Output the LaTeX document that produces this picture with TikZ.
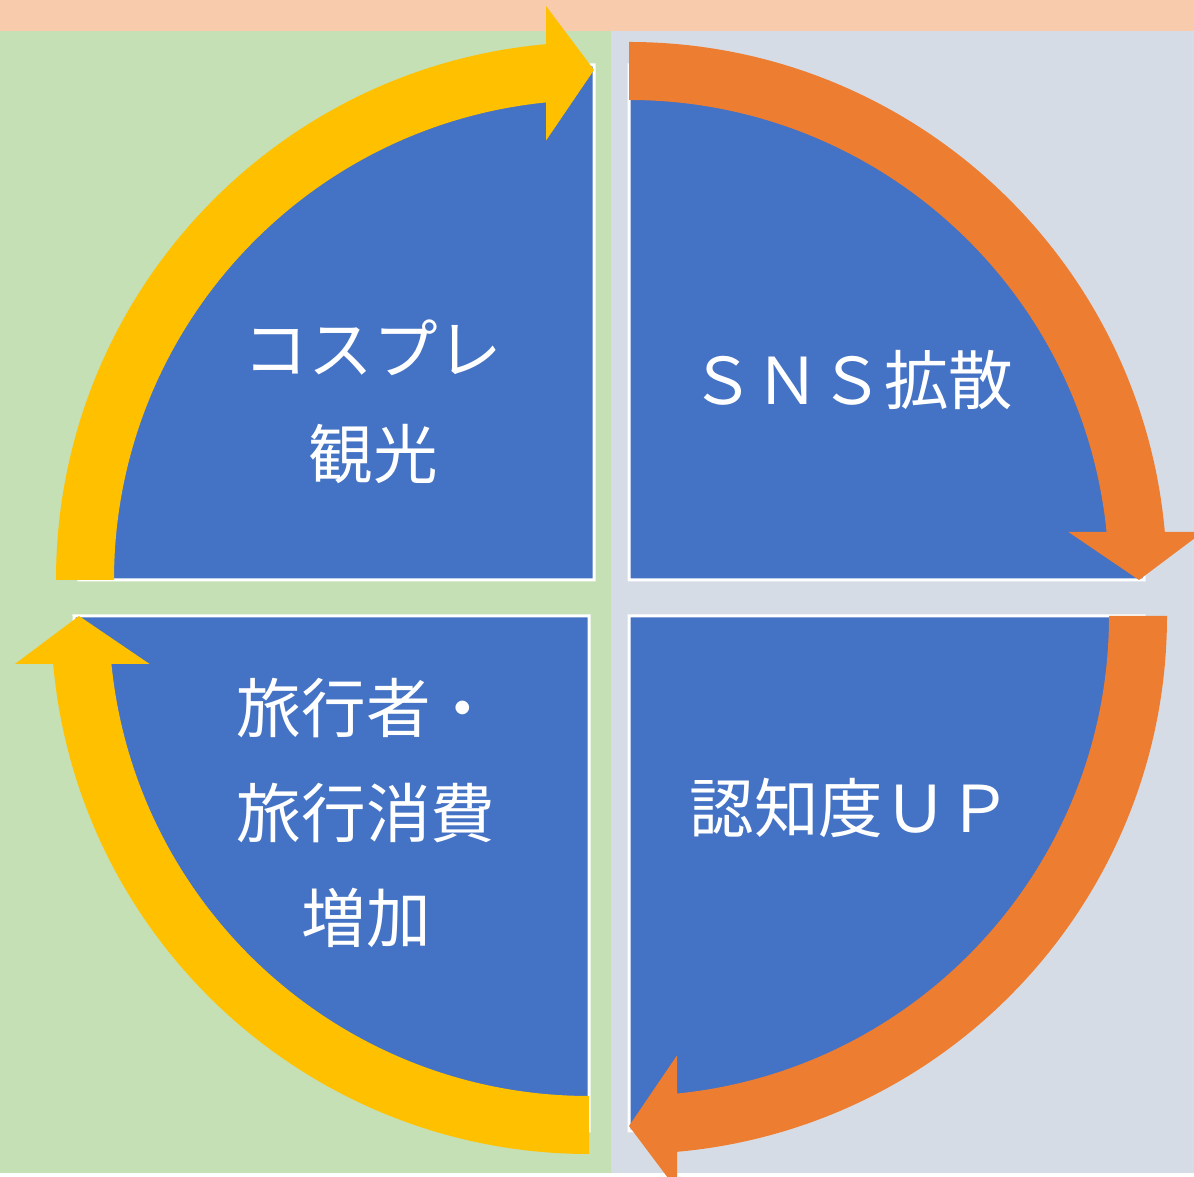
\documentclass[tikz,border=0pt]{standalone}
\usepackage{fontspec}
\setmainfont{Noto Sans CJK JP}
\usepackage{xcolor}
\usepackage{tikz}

\definecolor{quadblue}{HTML}{4472C4}
\definecolor{cycyellow}{HTML}{FFC000}
\definecolor{cycorange}{HTML}{ED7D31}
\definecolor{bggreen}{HTML}{C5E0B4}
\definecolor{bggray}{HTML}{D6DCE5}
\definecolor{bgpeach}{HTML}{F8CBAD}

% curved block arrow round a corner: centre, rotation, colour
\newcommand{\cycarrow}[3]{%
	\fill[#3,shift={#1},rotate=#2] (180:480) -- (180:538)
		arc[start angle=180,end angle=95.12,radius=538]
		-- (-48,574) -- (0,510) -- (-48,439.4) -- (95.74:480)
		arc[start angle=95.74,end angle=180,radius=480] -- cycle;}

\begin{document}
\begin{tikzpicture}[x=0.5pt,y=0.5pt]
					\tikzstyle{quad}=[fill=quadblue, draw=white, line width=1.5pt]
					\tikzstyle{quadtext}=[text=white, align=center, inner sep=0pt, font=\fontsize{32.3}{52.5}\selectfont]
					\useasboundingbox (0,0) rectangle (1194,1177);
					\clip (0,0) rectangle (1194,1177);

					% backgrounds
					\fill[white] (0,0) rectangle (1194,1177);
					\fill[bgpeach] (0,1146) rectangle (1194,1177);
					\fill[bggreen] (0,4) rectangle (611,1146);
					\fill[bggray] (611,4) rectangle (1194,1146);

					% quarter discs
					\filldraw[quad] (594,597) -- ++(180:515) arc[start angle=180,end angle=90,radius=515] -- cycle;
					\filldraw[quad] (629,597) -- ++(90:515) arc[start angle=90,end angle=0,radius=515] -- cycle;
					\filldraw[quad] (629,561) -- ++(0:515) arc[start angle=0,end angle=-90,radius=515] -- cycle;
					\filldraw[quad] (589,561) -- ++(270:515) arc[start angle=270,end angle=180,radius=515] -- cycle;

					% arrows
					\cycarrow{(594,597)}{0}{cycyellow}
					\cycarrow{(629,597)}{-90}{cycorange}
					\cycarrow{(629,561)}{-180}{cycorange}
					\cycarrow{(589,561)}{90}{cycyellow}

					\node[quadtext] (cosplay) at (373,775) {コスプレ\\観光};
					\node[quadtext] (sns) at (852,797) {ＳＮＳ拡散};
					\node[quadtext] (aware) at (851,369) {認知度ＵＰ};
					\node[quadtext] (travel) at (366,364) {旅行者・\\旅行消費\\増加};
				\end{tikzpicture}
\end{document}
